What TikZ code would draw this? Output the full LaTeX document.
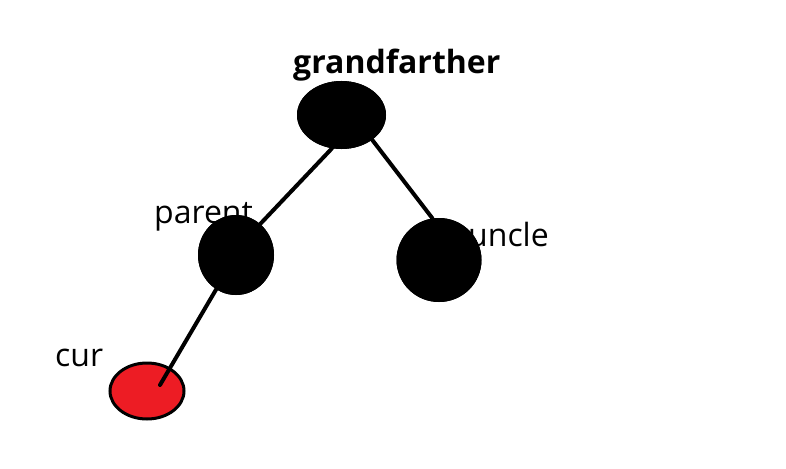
\documentclass[tikz,border=0pt]{standalone}
\usepackage{fontspec}
\setmainfont{Open Sans}
\usetikzlibrary{shapes.geometric,calc}
\definecolor{curred}{HTML}{ED1C24}
\tikzset{
  treenode/.style={ellipse,fill=black,inner sep=0pt},
  label/.style={inner sep=0pt,anchor=base west,font=\fontsize{32}{36}\selectfont},
  edge/.style={line width=4pt,line cap=round}
}
\begin{document}
\begin{tikzpicture}[x=1pt,y=-1pt]
\useasboundingbox[fill=white] (0,0) rectangle (786,468);
% labels (under the nodes)
\node[label,font=\fontsize{32}{36}\selectfont\bfseries] (tgf) at (293,74) {grandfarther};
\node[label] (tpa) at (154,223) {parent};
\node[label] (tun) at (468,246) {uncle};
\node[label] (tcu) at (55,366) {cur};
% nodes
\node[treenode,minimum width=89pt,minimum height=68pt] (gf) at (341.5,115) {};
\node[treenode,minimum width=76pt,minimum height=80pt] (pa) at (236,255) {};
\node[treenode,minimum width=85pt,minimum height=84pt] (un) at (439,260) {};
\node[ellipse,fill=curred,draw=black,line width=3pt,inner sep=0pt,minimum width=74pt,minimum height=56pt] (cu) at (147,391) {};
% connectors between black nodes, behind them
\begin{scope}
\clip (0,0) rectangle (786,468);
\end{scope}
\draw[edge] (gf.-106) -- (pa.52);
\draw[edge] (gf.-39) -- (un.99);
% redraw node bodies over the connector ends
\fill[black] (gf.center) ellipse [x radius=44.5, y radius=34];
\fill[black] (pa.center) ellipse [x radius=38, y radius=40];
\fill[black] (un.center) ellipse [x radius=42.5, y radius=42];
% parent to cur, drawn over cur
\coordinate (cuend) at ($(cu.center)+(13,-6)$);
\draw[edge] (pa.-120) -- (cuend);
\end{tikzpicture}
\end{document}
